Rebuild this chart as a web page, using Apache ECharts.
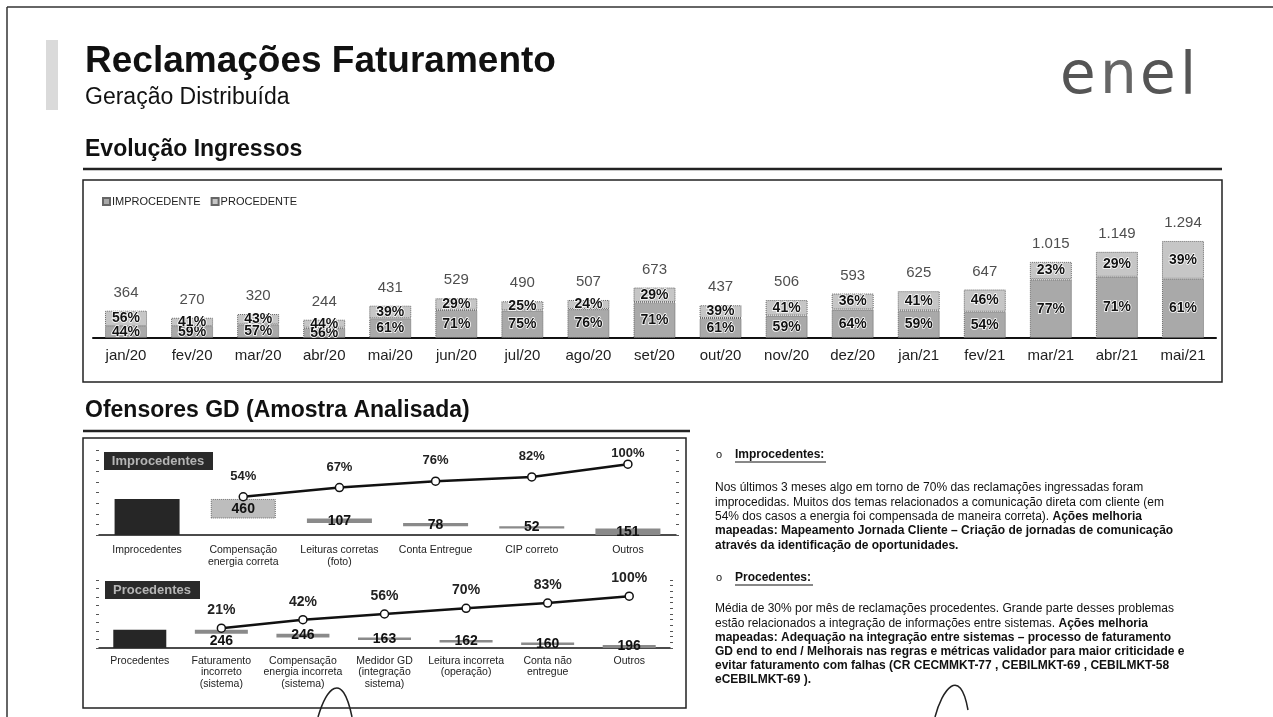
<!DOCTYPE html>
<html>
<head>
<meta charset="utf-8">
<script src="https://cdn.jsdelivr.net/npm/echarts@6/dist/echarts.min.js"></script>
<style>
html, body { margin: 0; padding: 0; background: #fff; }
#main { width: 1273px; height: 717px; }
</style>
</head>
<body>
<div id="main"></div>
<script>
// --- Evolução Ingressos
var meses = ['jan/20','fev/20','mar/20','abr/20','mai/20','jun/20','jul/20','ago/20','set/20',
             'out/20','nov/20','dez/20','jan/21','fev/21','mar/21','abr/21','mai/21'];
var totais = [364,270,320,244,431,529,490,507,673,437,506,593,625,647,1015,1149,1294];
var pctImprocedente = [44,59,57,56,61,71,75,76,71,61,59,64,59,54,77,71,61];
var pctProcedente = [56,41,43,44,39,29,25,24,29,39,41,36,41,46,23,29,39];

// --- Ofensores improcedentes
var catImp = ['Improcedentes','Compensação\nenergia correta','Leituras corretas\n(foto)','Conta Entregue','CIP correto','Outros'];
var valImp = [460,107,78,52,151];
var acumImp = [54,67,76,82,100];

// --- Ofensores procedentes
var catProc = ['Procedentes','Faturamento\nincorreto\n(sistema)','Compensação\nenergia incorreta\n(sistema)',
               'Medidor GD\n(integração\nsistema)','Leitura incorreta\n(operação)','Conta não\nentregue','Outros'];
var valProc = [246,246,163,162,160,196];
var acumProc = [21,42,56,70,83,100];

var FONT = '"Liberation Sans", Arial, sans-serif';

function ptBR(n) { return String(n).replace(/\B(?=(\d{3})+(?!\d))/g, '.'); }

var imp = totais.map(function (t, i) { return t * pctImprocedente[i] / 100; });
var proc = totais.map(function (t, i) { return t * pctProcedente[i] / 100; });

// cascata: barra total + degraus descendo
function cascata(vals) {
  var total = vals.reduce(function (a, b) { return a + b; }, 0);
  var base = [0], vis = [total], resto = total;
  vals.forEach(function (v) { resto -= v; base.push(resto); vis.push(v); });
  return { base: base, vis: vis };
}
var wImp = cascata(valImp);
var wProc = cascata(valProc);

function itensCascata(vis, primeiroClaro, labelAbaixo) {
  return vis.map(function (v, i) {
    if (i === 0) return { value: v, itemStyle: { color: '#262626' }, label: { show: false } };
    var it = { value: v, itemStyle: { color: '#8a8a8a' } };
    if (i === 1 && primeiroClaro) it.itemStyle = { color: '#bdbdbd', borderColor: '#6a6a6a', borderWidth: 1, borderType: 'dotted' };
    if (i === 1 && labelAbaixo) it.label = { position: 'bottom', distance: 0 };
    return it;
  });
}

function acumulado(vals, offsetUltimo) {
  return ['-'].concat(vals.map(function (v, i) {
    if (i === vals.length - 1) return { value: v, label: { offset: offsetUltimo } };
    return v;
  }));
}

var tickAxis = {
  axisLine: { show: false },
  axisTick: { show: true, length: 3, lineStyle: { color: '#555', width: 1 } },
  axisLabel: { show: false },
  splitLine: { show: false }
};
function eixoY(extra) { return Object.assign({}, tickAxis, extra); }

var labelBar = { show: true, position: 'inside', fontSize: 14, fontWeight: 'bold', color: '#111',
                 fontFamily: FONT, textBorderColor: '#fff', textBorderWidth: 1.5 };

var parP1 = [
  'Nos últimos 3 meses algo em torno de 70% das reclamações ingressadas foram',
  'improcedidas. Muitos dos temas relacionados a comunicação direta com cliente (em',
  '54% dos casos a energia foi compensada de maneira correta). {b|Ações melhoria}',
  '{b|mapeadas: Mapeamento Jornada Cliente – Criação de jornadas de comunicação}',
  '{b|através da identificação de oportunidades.}'
];
var parP2 = [
  'Média de 30% por mês de reclamações procedentes. Grande parte desses problemas',
  'estão relacionados a integração de informações entre sistemas. {b|Ações melhoria}',
  '{b|mapeadas: Adequação na integração entre sistemas – processo de faturamento}',
  '{b|GD end to end / Melhorais nas regras e métricas validador para maior criticidade e}',
  '{b|evitar faturamento com falhas (CR CECMMKT-77 , CEBILMKT-69 , CEBILMKT-58}',
  '{b|eCEBILMKT-69 ).}'
];

function texto(x, y, txt, font, fill, align) {
  return { type: 'text', x: x, y: y, z: 10,
    style: { text: txt, font: font, fill: fill || '#111', align: align || 'left', verticalAlign: 'middle' } };
}
function linha(x1, y1, x2, y2, w, c) {
  return { type: 'line', z: 10, shape: { x1: x1, y1: y1, x2: x2, y2: y2 }, style: { stroke: c || '#222', lineWidth: w || 1 } };
}
function paragrafo(linhas, x, y0, dy) {
  return linhas.map(function (l, i) {
    return { type: 'text', x: x, y: y0 + i * dy, z: 10,
      style: { text: l, font: '12px ' + FONT, fill: '#111', verticalAlign: 'middle',
               rich: { b: { fontWeight: 'bold', fontSize: 12, fontFamily: FONT, fill: '#111' } } } };
  });
}

var LOGO = '58px "DejaVu Sans", sans-serif';
var graficos = [
  linha(7, 7, 1273, 7, 1.5, '#333'),
  linha(7, 7, 7, 717, 1.5, '#333'),
  { type: 'rect', z: 1, shape: { x: 46, y: 40, width: 12, height: 70 }, style: { fill: '#dadada' } },
  texto(85, 62, 'Reclamações Faturamento', 'bold 37px ' + FONT),
  texto(85, 98, 'Geração Distribuída', '23px ' + FONT),
  texto(1060, 78, 'e', LOGO, '#555'),
  texto(1100, 78, 'n', LOGO, '#666'),
  texto(1140, 78, 'e', LOGO, '#555'),
  texto(1180, 79, 'l', LOGO, '#555'),

  texto(85, 150, 'Evolução Ingressos', 'bold 23px ' + FONT),
  linha(83, 169, 1222, 169, 2.5),
  { type: 'rect', z: 1, shape: { x: 83, y: 180, width: 1139, height: 202 }, style: { fill: 'none', stroke: '#222', lineWidth: 1.5 } },

  texto(85, 411, 'Ofensores GD (Amostra Analisada)', 'bold 23px ' + FONT),
  linha(83, 431, 690, 431, 2.5),
  { type: 'rect', z: 1, shape: { x: 83, y: 438, width: 603, height: 270 }, style: { fill: 'none', stroke: '#222', lineWidth: 1.5 } },

  { type: 'rect', z: 10, shape: { x: 104, y: 452, width: 109, height: 18 }, style: { fill: '#2a2a2a' } },
  texto(158, 461, 'Improcedentes', 'bold 13px ' + FONT, '#b5b5b5', 'center'),
  { type: 'rect', z: 10, shape: { x: 105, y: 581, width: 95, height: 18 }, style: { fill: '#2a2a2a' } },
  texto(152, 590, 'Procedentes', 'bold 13px ' + FONT, '#b5b5b5', 'center'),

  texto(716, 455, 'o', '11px ' + FONT),
  texto(735, 455, 'Improcedentes:', 'bold 12px ' + FONT),
  linha(735, 462, 826, 462, 1, '#111'),
  texto(716, 578, 'o', '11px ' + FONT),
  texto(735, 578, 'Procedentes:', 'bold 12px ' + FONT),
  linha(735, 585, 813, 585, 1, '#111'),

  { type: 'bezierCurve', z: 10, shape: { x1: 318, y1: 717, x2: 352, y2: 717, cpx1: 326, cpy1: 690, cpx2: 342, cpy2: 668 }, style: { stroke: '#222', lineWidth: 1.5, fill: 'none' } },
  { type: 'bezierCurve', z: 10, shape: { x1: 935, y1: 717, x2: 968, y2: 710, cpx1: 942, cpy1: 690, cpx2: 960, cpy2: 665 }, style: { stroke: '#222', lineWidth: 1.5, fill: 'none' } }
].concat(paragrafo(parP1, 715, 488, 14.3)).concat(paragrafo(parP2, 715, 609, 14.2));

var chart = echarts.init(document.getElementById('main'));
chart.setOption({
  animation: false,
  textStyle: { fontFamily: FONT },
  legend: {
    data: ['IMPROCEDENTE', 'PROCEDENTE'], left: 97, top: 191, icon: 'rect',
    itemWidth: 7, itemHeight: 7, itemGap: 10,
    textStyle: { fontSize: 11, color: '#222', fontFamily: FONT, padding: [0, 0, 0, -3] }
  },
  grid: [
    { left: 93, right: 57, top: 188, bottom: 379 },
    { left: 99, right: 597, top: 450, bottom: 182 },
    { left: 99, right: 603, top: 580, bottom: 69 }
  ],
  xAxis: [
    { gridIndex: 0, type: 'category', data: meses,
      axisLine: { lineStyle: { color: '#111', width: 2 } }, axisTick: { show: false },
      axisLabel: { fontSize: 15, color: '#222', margin: 10, fontFamily: FONT } },
    { gridIndex: 1, type: 'category', data: catImp,
      axisLine: { lineStyle: { color: '#111', width: 1.5 } }, axisTick: { show: false },
      axisLabel: { interval: 0, fontSize: 10.5, lineHeight: 12, color: '#222', margin: 9, fontFamily: FONT } },
    { gridIndex: 2, type: 'category', data: catProc,
      axisLine: { lineStyle: { color: '#111', width: 1.5 } }, axisTick: { show: false },
      axisLabel: { interval: 0, fontSize: 10.5, lineHeight: 11.5, color: '#222', margin: 7, fontFamily: FONT } }
  ],
  yAxis: [
    { gridIndex: 0, type: 'value', min: 0, max: 2000, show: false },
    eixoY({ gridIndex: 1, type: 'value', min: 0, max: 2000, interval: 250 }),
    eixoY({ gridIndex: 1, type: 'value', position: 'right', min: 0, max: 120, interval: 15 }),
    eixoY({ gridIndex: 2, type: 'value', min: 0, max: 4400, interval: 550 }),
    eixoY({ gridIndex: 2, type: 'value', position: 'right', min: -28, max: 140, interval: 14 })
  ],
  graphic: graficos,
  series: [
    { name: 'IMPROCEDENTE', type: 'bar', stack: 'mes', xAxisIndex: 0, yAxisIndex: 0, barWidth: 42, data: imp,
      itemStyle: { color: '#a9a9a9', borderColor: '#666', borderWidth: 1, borderType: 'dotted' },
      label: Object.assign({}, labelBar, { formatter: function (p) { return pctImprocedente[p.dataIndex] + '%'; } }) },
    { name: 'PROCEDENTE', type: 'bar', stack: 'mes', xAxisIndex: 0, yAxisIndex: 0, barWidth: 42, data: proc,
      itemStyle: { color: '#c6c6c6', borderColor: '#666', borderWidth: 1, borderType: 'dotted' },
      label: Object.assign({}, labelBar, { formatter: function (p) { return pctProcedente[p.dataIndex] + '%'; } }) },
    { name: 'total', type: 'scatter', xAxisIndex: 0, yAxisIndex: 0, data: totais, symbolSize: 1, silent: true,
      itemStyle: { color: 'rgba(0,0,0,0)' },
      label: { show: true, position: 'top', distance: 10, fontSize: 15, color: '#222', fontFamily: FONT,
               formatter: function (p) { return ptBR(p.value); } } },

    { name: 'baseImp', type: 'bar', stack: 'imp', xAxisIndex: 1, yAxisIndex: 1, barWidth: 65, silent: true,
      data: wImp.base, itemStyle: { color: 'rgba(0,0,0,0)' } },
    { name: 'ofensoresImp', type: 'bar', stack: 'imp', xAxisIndex: 1, yAxisIndex: 1, barWidth: 65,
      data: itensCascata(wImp.vis, true, false),
      label: { show: true, position: 'inside', fontSize: 14, fontWeight: 'bold', color: '#111', fontFamily: FONT } },
    { name: 'acumImp', type: 'line', xAxisIndex: 1, yAxisIndex: 2, data: acumulado(acumImp, [0, 10]),
      symbol: 'circle', symbolSize: 8, lineStyle: { color: '#111', width: 2.5 },
      itemStyle: { color: '#fff', borderColor: '#111', borderWidth: 1.5 },
      label: { show: true, position: 'top', distance: 9, fontSize: 13, fontWeight: 'bold', color: '#222',
               fontFamily: FONT, formatter: '{c}%' } },

    { name: 'baseProc', type: 'bar', stack: 'proc', xAxisIndex: 2, yAxisIndex: 3, barWidth: 53, silent: true,
      data: wProc.base, itemStyle: { color: 'rgba(0,0,0,0)' } },
    { name: 'ofensoresProc', type: 'bar', stack: 'proc', xAxisIndex: 2, yAxisIndex: 3, barWidth: 53,
      data: itensCascata(wProc.vis, false, true),
      label: { show: true, position: 'inside', fontSize: 14, fontWeight: 'bold', color: '#111', fontFamily: FONT } },
    { name: 'acumProc', type: 'line', xAxisIndex: 2, yAxisIndex: 4, data: acumulado(acumProc, [0, 0]),
      symbol: 'circle', symbolSize: 8, lineStyle: { color: '#111', width: 2.5 },
      itemStyle: { color: '#fff', borderColor: '#111', borderWidth: 1.5 },
      label: { show: true, position: 'top', distance: 6, fontSize: 14, fontWeight: 'bold', color: '#222',
               fontFamily: FONT, formatter: '{c}%' } }
  ]
});
</script>
</body>
</html>
